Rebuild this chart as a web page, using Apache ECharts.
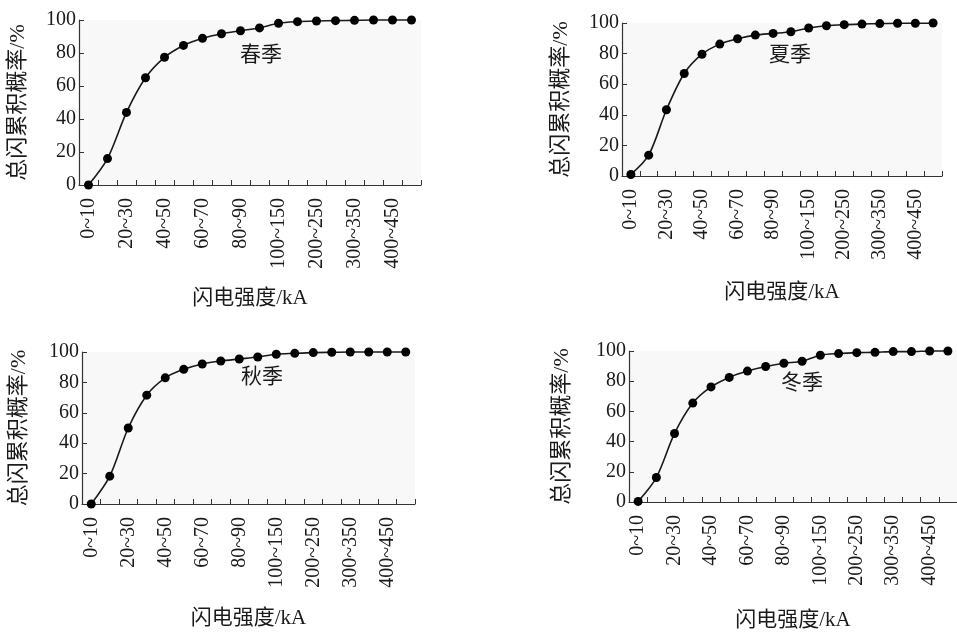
<!DOCTYPE html>
<html>
<head>
<meta charset="utf-8">
<script src="https://cdn.jsdelivr.net/npm/echarts@6/dist/echarts.min.js"></script>
<style>
    html, body { margin: 0; padding: 0; background: #fff; }
    #chart { width: 957px; height: 632px; }
</style>
</head>
<body>
<div id="chart"></div>
<script>
// lightning current ranges (kA)
const categories = [
    "0~10", "10~20", "20~30", "30~40", "40~50", "50~60", "60~70", "70~80", "80~90",
    "90~100", "100~150", "150~200", "200~250", "250~300", "300~350", "350~400",
    "400~450", "450~500"
];

// cumulative probability (%) per season
const spring = [0, 16, 44, 65, 77.4, 84.6, 88.9, 91.7, 93.5, 95.2, 98, 99, 99.4, 99.6, 99.8, 100, 100, 100];
const summer = [1, 13.6, 43.3, 67, 79.6, 86.2, 89.7, 92.1, 93.2, 94.3, 96.7, 98.2, 98.9, 99.3, 99.6, 99.8, 99.8, 100];
const autumn = [0, 18.3, 50, 71.6, 83, 88.6, 92.1, 94.1, 95.4, 96.7, 98.5, 99.1, 99.6, 99.8, 100, 100, 100, 100];
const winter = [0.4, 16.2, 45.4, 65.5, 76.2, 82.5, 86.7, 89.7, 91.9, 93.2, 97.2, 98.3, 98.9, 99.1, 99.6, 99.6, 100, 100];

const seasonNames = ["春季", "夏季", "秋季", "冬季"];
const yTicks = [0, 20, 40, 60, 80, 100];
const yName = "总闪累积概率/%";
const xName = "闪电强度/kA";

const FONT = "'Liberation Serif', 'Noto Sans CJK SC', serif";
const INK = "#1a1a1a";

// panel layout: grid box + positions for the season tag
const panels = [
    { data: spring, grid: { left: 79, top: 20, width: 342, height: 165 }, tag: [261, 55], yGap: 50, xGap: 103 },
    { data: summer, grid: { left: 622, top: 23, width: 320, height: 153 }, tag: [790, 55], yGap: 50, xGap: 106 },
    { data: autumn, grid: { left: 82, top: 352, width: 333, height: 152 }, tag: [262, 377], yGap: 52, xGap: 104 },
    { data: winter, grid: { left: 629, top: 351, width: 331, height: 152 }, tag: [802, 383], yGap: 56, xGap: 108 },
];

const chart = echarts.init(document.getElementById("chart"));

const option = {
    backgroundColor: "#fff",
    animation: false,
    textStyle: { fontFamily: FONT, color: INK },
    grid: panels.map((p) => ({
        ...p.grid,
        show: true,
        backgroundColor: "#f8f8f8",
        borderWidth: 0,
        containLabel: false,
    })),
    xAxis: panels.map((p, i) => ({
        type: "category",
        gridIndex: i,
        data: categories,
        boundaryGap: true,
        name: xName,
        nameLocation: "middle",
        nameGap: p.xGap,
        nameTextStyle: { fontFamily: FONT, fontSize: 21, color: INK },
        axisLine: { lineStyle: { color: "#333", width: 1.2 } },
        axisTick: { show: true, inside: true, interval: 0, length: 5, lineStyle: { color: "#333" } },
        axisLabel: {
            interval: 1,
            rotate: 90,
            margin: 13,
            fontFamily: FONT,
            fontSize: 20,
            color: INK,
        },
        splitLine: { show: false },
    })),
    yAxis: panels.map((p, i) => ({
        type: "value",
        gridIndex: i,
        min: yTicks[0],
        max: yTicks[yTicks.length - 1],
        interval: yTicks[1] - yTicks[0],
        name: yName,
        nameLocation: "middle",
        nameGap: p.yGap,
        nameTextStyle: { fontFamily: FONT, fontSize: 22, color: INK },
        axisLine: { show: true, lineStyle: { color: "#333", width: 1.2 } },
        axisTick: { show: true, inside: true, length: 5, lineStyle: { color: "#333" } },
        axisLabel: { margin: 3, fontFamily: FONT, fontSize: 20, color: INK },
        splitLine: { show: false },
    })),
    series: panels.map((p, i) => ({
        name: seasonNames[i],
        type: "line",
        xAxisIndex: i,
        yAxisIndex: i,
        data: p.data,
        smooth: 0.3,
        symbol: "circle",
        symbolSize: 9,
        showSymbol: true,
        lineStyle: { color: INK, width: 1.6 },
        itemStyle: { color: "#000" },
        clip: false,
    })),
    graphic: panels.map((p, i) => ({
        type: "text",
        x: p.tag[0],
        y: p.tag[1],
        style: {
            text: seasonNames[i],
            fontFamily: FONT,
            fontSize: 21,
            fill: INK,
            align: "center",
            verticalAlign: "middle",
        },
    })),
};

chart.setOption(option);
</script>
</body>
</html>
